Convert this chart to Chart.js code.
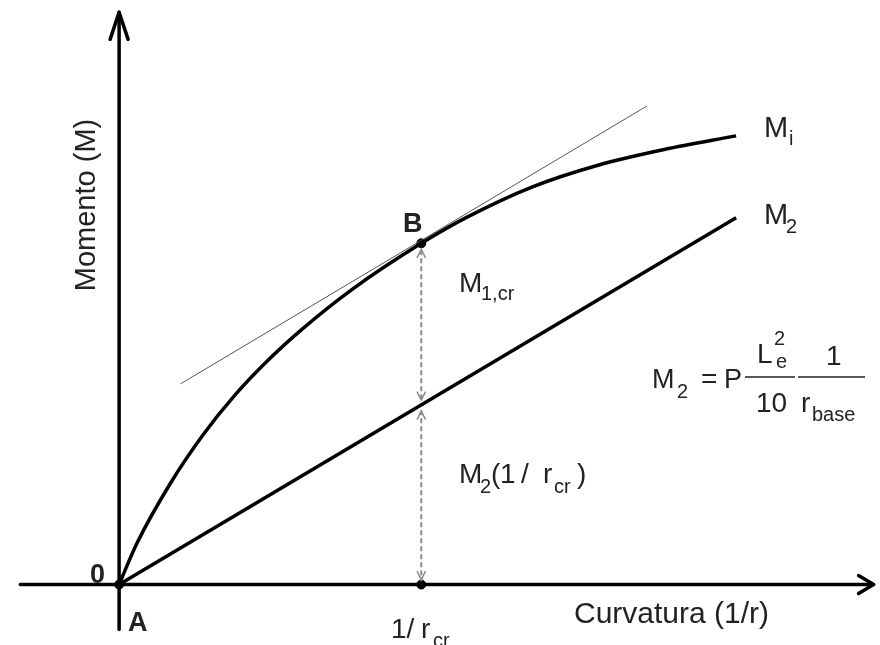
<!DOCTYPE html>
<html>
<head>
<meta charset="utf-8">
<script src="https://cdn.jsdelivr.net/npm/chart.js@4.4.0/dist/chart.umd.min.js"></script>
<style>
  html, body { margin: 0; padding: 0; background: #fff; }
  #wrap { width: 880px; height: 645px; }
</style>
</head>
<body>
<div id="wrap"><canvas id="c" width="880" height="645"></canvas></div>
<script>
// x = curvature (1/r), scaled so that 1/r_cr = 1
// y = moment, scaled so that M at point B = 1
const miX = [0, 0.059, 0.170, 0.278, 0.386, 0.497, 0.605, 0.768, 1.0, 1.150, 1.366, 1.585, 1.804, 2.042];
const miY = [0, 0.121, 0.297, 0.439, 0.558, 0.661, 0.748, 0.863, 1.0, 1.076, 1.165, 1.229, 1.275, 1.315];

const m2X = [0, 2.042];
const m2Y = [0, 1.075];

// thin tangent at B
const tanX = [0.203, 1.748];
const tanY = [0.588, 1.403];

const invRcr = 1.0;     // 1/r_cr
const mB = 1.0;         // M at B (on Mi)
const m2AtCr = 0.526;   // M2(1/r_cr)

// axis extents
const xAxisRange = [-0.327, 2.497];
const yAxisRange = [-0.132, 1.677];

const pts = (xs, ys) => xs.map((x, i) => ({ x: x, y: ys[i] }));

const FONT = '"Liberation Sans", Arial, sans-serif';

function txt(ctx, s, x, y, size, bold) {
  ctx.font = (bold ? 'bold ' : '') + size + 'px ' + FONT;
  ctx.fillText(s, x, y);
}

function chevron(ctx, x, y, dir, w, h) {
  // dir = -1 pointing up, +1 pointing down
  ctx.beginPath();
  ctx.moveTo(x - w, y - dir * h);
  ctx.lineTo(x, y);
  ctx.lineTo(x + w, y - dir * h);
  ctx.stroke();
}

const decor = {
  id: 'decor',
  beforeDatasetsDraw(chart) {
    const ctx = chart.ctx;
    const xs = chart.scales.x, ys = chart.scales.y;
    const x0 = xs.getPixelForValue(0), y0 = ys.getPixelForValue(0);
    ctx.save();
    ctx.strokeStyle = '#000';
    ctx.lineWidth = 3.5;
    ctx.lineCap = 'round';
    ctx.lineJoin = 'round';
    // x axis
    const xEnd = xs.getPixelForValue(xAxisRange[1]);
    ctx.beginPath();
    ctx.moveTo(xs.getPixelForValue(xAxisRange[0]), y0);
    ctx.lineTo(xEnd, y0);
    ctx.stroke();
    ctx.beginPath();
    ctx.moveTo(xEnd - 15, y0 - 9);
    ctx.lineTo(xEnd, y0);
    ctx.lineTo(xEnd - 15, y0 + 9);
    ctx.stroke();
    // y axis
    const yTop = ys.getPixelForValue(yAxisRange[1]);
    ctx.beginPath();
    ctx.moveTo(x0, ys.getPixelForValue(yAxisRange[0]));
    ctx.lineTo(x0, yTop);
    ctx.stroke();
    ctx.beginPath();
    ctx.moveTo(x0 - 9, yTop + 27);
    ctx.lineTo(x0, yTop);
    ctx.lineTo(x0 + 9, yTop + 27);
    ctx.stroke();

    // small arrow heads on the dashed verticals
    const xc = xs.getPixelForValue(invRcr);
    const yB = ys.getPixelForValue(mB);
    const yM2 = ys.getPixelForValue(m2AtCr);
    ctx.strokeStyle = '#8a8a8a';
    ctx.lineWidth = 1.5;
    chevron(ctx, xc, yB + 6, -1, 4, 8);
    chevron(ctx, xc, yM2 - 5, 1, 4, 8);
    chevron(ctx, xc, yM2 + 6, -1, 4, 8);
    chevron(ctx, xc, y0 - 5, 1, 4, 8);
    ctx.restore();
  },
  afterDatasetsDraw(chart) {
    const ctx = chart.ctx;
    ctx.save();
    ctx.fillStyle = '#222';
    ctx.textBaseline = 'alphabetic';
    ctx.textAlign = 'left';

    // axis titles
    txt(ctx, 'Curvatura (1/r)', 574, 623, 30);
    ctx.save();
    ctx.translate(95, 205);
    ctx.rotate(-Math.PI / 2);
    ctx.textAlign = 'center';
    txt(ctx, 'Momento (M)', 0, 0, 29);
    ctx.restore();

    // point labels
    txt(ctx, 'B', 403, 232, 27, true);
    txt(ctx, '0', 90, 583, 27, true);
    txt(ctx, 'A', 128, 631, 27, true);

    // 1/r_cr under the axis
    txt(ctx, '1/', 391, 638, 28);
    txt(ctx, 'r', 421, 638, 28);
    txt(ctx, 'cr', 433, 647, 20);

    // M_1,cr
    txt(ctx, 'M', 459, 292, 28);
    txt(ctx, '1,cr', 481, 300, 20);

    // M_2(1/r_cr)
    txt(ctx, 'M', 459, 483, 28);
    txt(ctx, '2', 480, 493, 20);
    txt(ctx, '(', 491, 483, 28);
    txt(ctx, '1', 500, 483, 28);
    txt(ctx, '/', 521, 483, 28);
    txt(ctx, 'r', 543, 483, 28);
    txt(ctx, 'cr', 554, 493, 20);
    txt(ctx, ')', 577, 483, 28);

    // curve labels
    txt(ctx, 'M', 764, 137, 29);
    txt(ctx, 'i', 789, 145, 20);
    txt(ctx, 'M', 764, 224, 29);
    txt(ctx, '2', 786, 233, 20);

    // formula M2 = P Le^2/10 * 1/r_base
    txt(ctx, 'M', 652, 388, 27);
    txt(ctx, '2', 677, 398, 20);
    txt(ctx, '=', 701, 388, 28);
    txt(ctx, 'P', 724, 388, 27);
    txt(ctx, 'L', 757, 363, 28);
    txt(ctx, '2', 774, 345, 20);
    txt(ctx, 'e', 776, 368, 20);
    txt(ctx, '10', 756, 412, 28);
    txt(ctx, '1', 826, 365, 28);
    txt(ctx, 'r', 801, 412, 28);
    txt(ctx, 'base', 812, 421, 20);
    ctx.strokeStyle = '#222';
    ctx.lineWidth = 1.5;
    ctx.beginPath();
    ctx.moveTo(745, 377); ctx.lineTo(795, 377);
    ctx.moveTo(798, 377); ctx.lineTo(865, 377);
    ctx.stroke();
    ctx.restore();
  }
};

new Chart(document.getElementById('c'), {
  type: 'scatter',
  data: {
    datasets: [
      {
        label: 'Mi',
        data: pts(miX, miY),
        showLine: true,
        borderColor: '#000',
        borderWidth: 3.5,
        cubicInterpolationMode: 'monotone',
        pointRadius: 0
      },
      {
        label: 'M2',
        data: pts(m2X, m2Y),
        showLine: true,
        borderColor: '#000',
        borderWidth: 3.5,
        pointRadius: 0
      },
      {
        label: 'tangente',
        data: pts(tanX, tanY),
        showLine: true,
        borderColor: '#555',
        borderWidth: 1,
        pointRadius: 0
      },
      {
        label: 'M1,cr',
        data: [{ x: invRcr, y: mB - 0.02 }, { x: invRcr, y: m2AtCr + 0.015 }],
        showLine: true,
        borderColor: '#8a8a8a',
        borderWidth: 2,
        borderDash: [5, 3],
        pointRadius: 0
      },
      {
        label: 'M2(1/rcr)',
        data: [{ x: invRcr, y: m2AtCr - 0.015 }, { x: invRcr, y: 0.01 }],
        showLine: true,
        borderColor: '#8a8a8a',
        borderWidth: 2,
        borderDash: [5, 3],
        pointRadius: 0
      },
      {
        label: 'pontos',
        data: [{ x: 0, y: 0 }, { x: invRcr, y: mB }, { x: invRcr, y: 0 }],
        backgroundColor: '#000',
        borderColor: '#000',
        pointRadius: 4.5
      }
    ]
  },
  options: {
    responsive: false,
    animation: false,
    layout: { padding: 0 },
    plugins: { legend: { display: false }, tooltip: { enabled: false } },
    scales: {
      x: { type: 'linear', display: false, min: -0.376, max: 2.5 },
      y: { type: 'linear', display: false, min: -0.161, max: 1.697 }
    }
  },
  plugins: [decor]
});
</script>
</body>
</html>
